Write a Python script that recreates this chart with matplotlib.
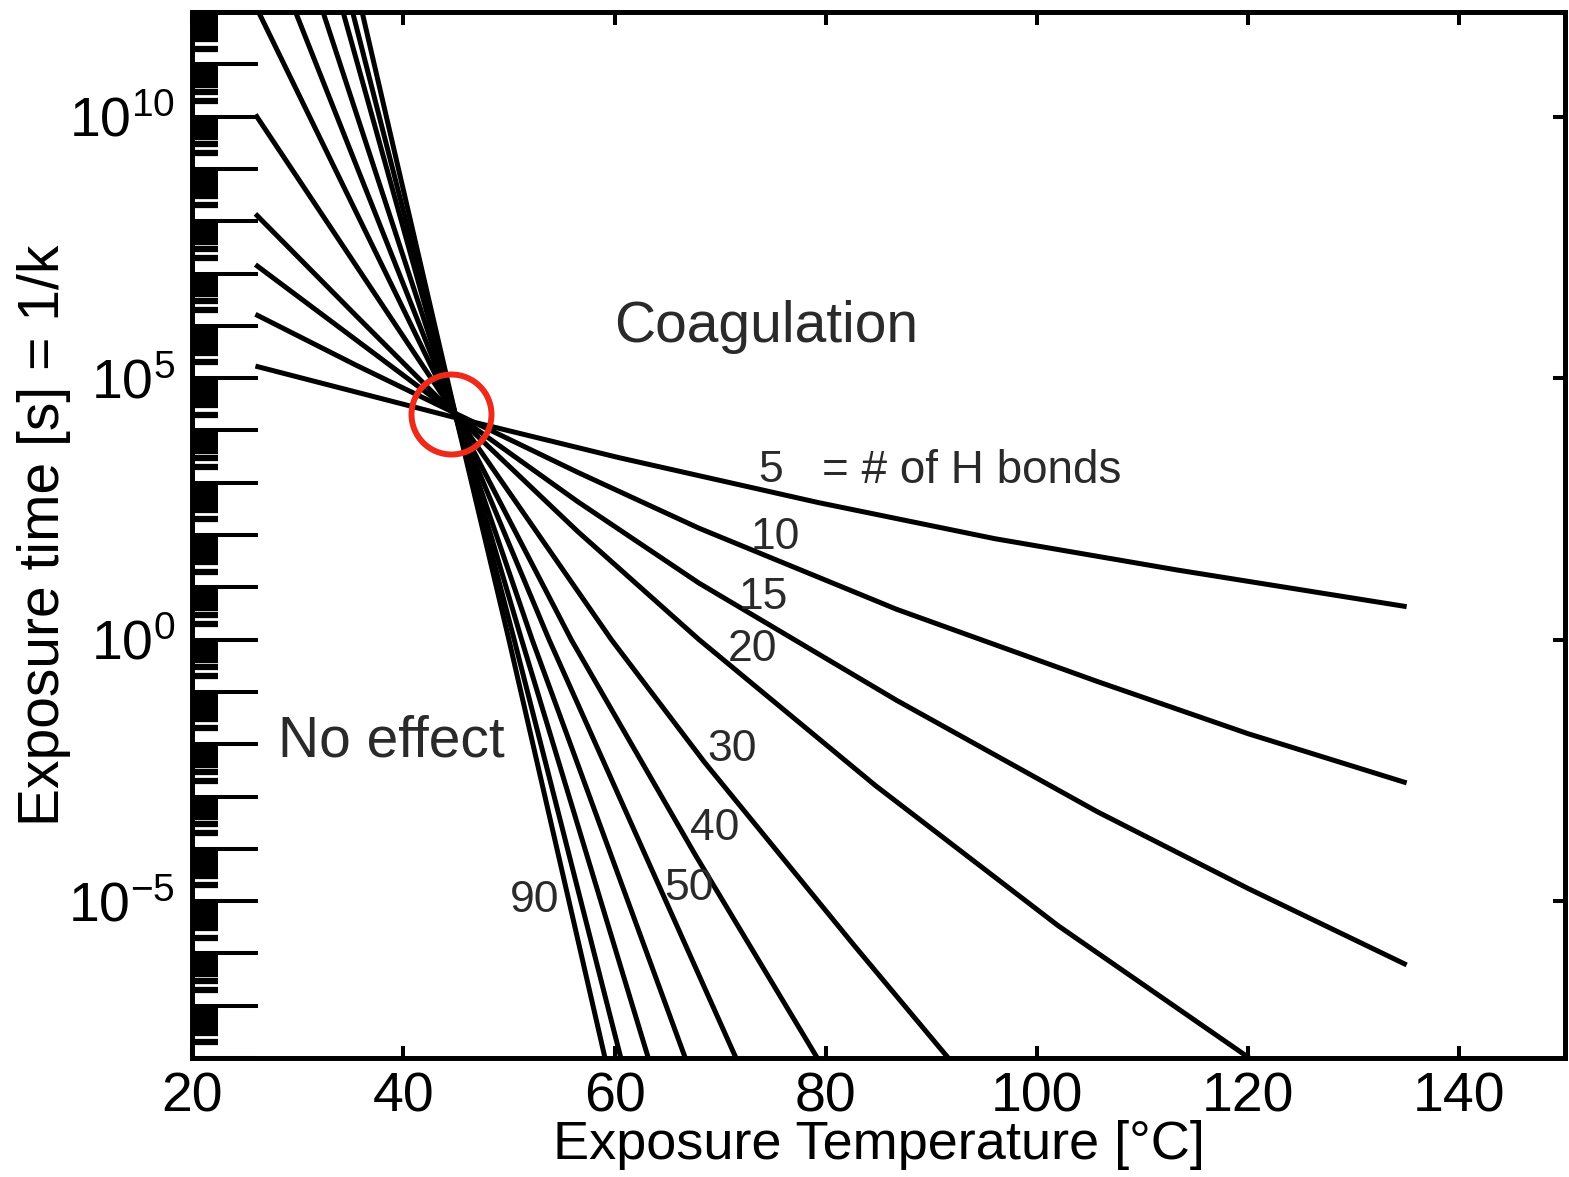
import numpy as np
import matplotlib
matplotlib.use("Agg")
import matplotlib.pyplot as plt
from matplotlib.ticker import FixedLocator, FuncFormatter, NullFormatter

plt.rcParams['font.family'] = ['Liberation Sans', 'DejaVu Sans']
plt.rcParams['axes.unicode_minus'] = False

# number of H bonds for each curve
H_BONDS = [5, 10, 15, 20, 30, 40, 50, 60, 70, 80, 90]

# temperature [C]
TEMPS = [
    [26, 45, 60.4, 79.3, 96, 113.3, 135],
    [26, 35.5, 45, 56.5, 68, 86.7, 105.7, 120, 135],
    [26, 45, 56.5, 68, 86.7, 105.7, 120, 135],
    [26, 35.5, 45, 56.5, 68, 84.7, 102, 120.1],
    [26, 45, 59.7, 68.5, 82.7, 91.6],
    [26.3, 45, 55.9, 67.6, 79.2],
    [29.8, 45, 53.8, 71.5],
    [32.4, 45, 52.2, 66.7],
    [34.3, 45, 51.2, 63.2],
    [35.2, 45, 50.5, 60.6],
    [36.1, 45, 50.0, 59.1],
]

# log10 of exposure time [s] at those temperatures
LOG_TIMES = [
    [5.23, 4.24, 3.48, 2.62, 1.93, 1.33, 0.63],
    [6.22, 5.25, 4.32, 3.20, 2.13, 0.58, -0.80, -1.80, -2.74],
    [7.17, 4.30, 2.64, 1.08, -1.16, -3.29, -4.76, -6.22],
    [8.14, 6.20, 4.28, 2.07, 0.0, -2.79, -5.47, -8.0],
    [10.04, 4.28, 0.0, -2.34, -5.85, -8.0],
    [12.0, 4.25, 0.0, -4.1, -8.0],
    [12.0, 4.25, 0.0, -8.0],
    [12.0, 4.25, 0.0, -8.0],
    [12.0, 4.25, 0.0, -8.0],
    [12.0, 4.25, 0.0, -8.0],
    [12.0, 4.25, 0.0, -8.0],
]

X_TICKS = [20, 40, 60, 80, 100, 120, 140]
Y_DECADES = list(range(-8, 13))
Y_LABELED = [-5, 0, 5, 10]

TEXT_COLOR = '#2a2a2a'


def decade_label(val, pos):
    k = int(round(np.log10(val)))
    if k % 5 == 0:
        return r'$\mathdefault{10^{%d}}$' % k
    return ''


fig = plt.figure(figsize=(15.69, 11.77), dpi=100)
ax = fig.add_axes([0.1224, 0.1011, 0.8751, 0.8887])

for T, lt in zip(TEMPS, LOG_TIMES):
    ax.plot(T, 10.0 ** np.array(lt), color='black', lw=3.6,
            solid_capstyle='butt', solid_joinstyle='round')

ax.set_yscale('log')
ax.set_xlim(20, 150)
ax.set_ylim(1e-8, 1e12)

# x axis: short inward ticks on top and bottom
ax.set_xticks(X_TICKS)
ax.tick_params(axis='x', which='major', direction='in', top=True,
               length=9, width=2.9, labelsize=40, pad=10)

# left y axis: long major ticks every decade, labels every 5 decades
ax.yaxis.set_major_locator(FixedLocator([10.0 ** k for k in Y_DECADES]))
ax.yaxis.set_major_formatter(FuncFormatter(decade_label))
minors = [m * 10.0 ** k for k in Y_DECADES[:-1] for m in range(2, 10)]
ax.yaxis.set_minor_locator(FixedLocator(minors))
ax.yaxis.set_minor_formatter(NullFormatter())
ax.tick_params(axis='y', which='major', direction='in', right=False,
               length=47.5, width=2.9, labelsize=40, pad=12)
ax.tick_params(axis='y', which='minor', direction='in', right=False,
               length=18.7, width=4.5)

# right side: only the labelled decades
ax2 = ax.twinx()
ax2.set_yscale('log')
ax2.set_ylim(ax.get_ylim())
ax2.yaxis.set_major_locator(FixedLocator([10.0 ** k for k in Y_LABELED]))
ax2.yaxis.set_minor_locator(FixedLocator([]))
ax2.yaxis.set_major_formatter(NullFormatter())
ax2.tick_params(axis='y', direction='in', length=9, width=2.9)

for a in (ax, ax2):
    for sp in a.spines.values():
        sp.set_linewidth(3.4)

ax.set_xlabel('Exposure Temperature [°C]', fontsize=39, labelpad=-3)
ax.set_ylabel('Exposure time [s] = 1/k', fontsize=41, labelpad=-2)

# curve labels
labels = [('5', 74.8, 3.23), ('10', 75.2, 1.96), ('15', 74.1, 0.80),
          ('20', 73.1, -0.19), ('30', 71.1, -2.11), ('40', 69.5, -3.61),
          ('50', 67.1, -4.75), ('90', 52.4, -4.98)]
for s, x, y in labels:
    ax.text(x, 10.0 ** y, s, fontsize=32, color=TEXT_COLOR,
            ha='center', va='center')
ax.text(79.6, 10.0 ** 3.23, '= # of H bonds', fontsize=33, color=TEXT_COLOR,
        ha='left', va='center')

ax.text(74.4, 10.0 ** 5.97, 'Coagulation', fontsize=41, color=TEXT_COLOR,
        ha='center', va='center')
ax.text(38.9, 10.0 ** -1.94, 'No effect', fontsize=41, color=TEXT_COLOR,
        ha='center', va='center')

# highlight where the curves cross
ax.plot(44.5, 10.0 ** 4.32, 'o', ms=57.6, mfc='none', mec='#ee2a1a',
        mew=4.3, zorder=5)

fig.savefig('out.png', dpi=100)
